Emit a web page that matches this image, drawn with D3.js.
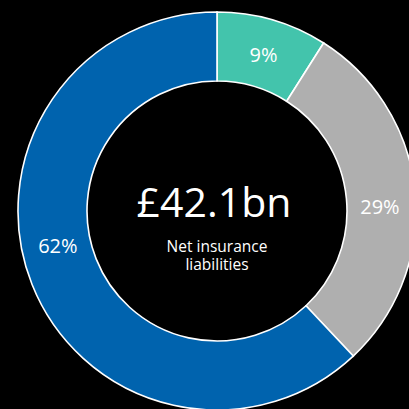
<!DOCTYPE html>
<html><head><meta charset="utf-8">
<script src="https://cdn.jsdelivr.net/npm/d3@7"></script>
<style>html,body{margin:0;padding:0;background:#000;overflow:hidden}</style>
</head><body>
<svg id="c" width="409" height="409"></svg>
<script>
const categories = ["Segment A", "Segment B", "Segment C"];
const values = [9, 29, 62];
const labels = ["9%", "29%", "62%"];
const colors = ["#43C4AC", "#AFAFAF", "#0063AE"];
const centerValue = "£42.1bn";
const centerCaption = ["Net insurance", "liabilities"];

const svg = d3.select("#c");
svg.append("rect").attr("width", 409).attr("height", 409).attr("fill", "#000");
const cx = 217, cy = 211, rOut = 199, rIn = 130;
const g = svg.append("g").attr("transform", `translate(${cx},${cy})`);
const pie = d3.pie().sort(null).value(d => d)(values);
const arc = d3.arc().innerRadius(rIn).outerRadius(rOut);
g.selectAll("path").data(pie).join("path")
  .attr("d", arc).attr("fill", (d, i) => colors[i])
  .attr("stroke", "#fff").attr("stroke-width", 1.6);

// label placement: angular nudge inside each segment
const labelNudge = [0.007, 0.07, 0.16];
const labelR = 163;
g.selectAll("text.lbl").data(pie).join("text").attr("class", "lbl")
  .attr("x", (d, i) => labelR * Math.sin((d.startAngle + d.endAngle) / 2 + labelNudge[i]))
  .attr("y", (d, i) => -labelR * Math.cos((d.startAngle + d.endAngle) / 2 + labelNudge[i]) + 7)
  .attr("text-anchor", "middle")
  .attr("font-family", "'Open Sans', sans-serif").attr("font-size", 20)
  .attr("fill", "#fff").text((d, i) => labels[i]);

g.append("text").attr("x", -3).attr("y", 6).attr("text-anchor", "middle")
  .attr("font-family", "'Open Sans', sans-serif").attr("font-size", 41)
  .attr("fill", "#fff").text(centerValue);
const cap = g.append("text").attr("text-anchor", "middle")
  .attr("font-family", "'Open Sans', sans-serif").attr("font-size", 15.5)
  .attr("fill", "#fff");
centerCaption.forEach((t, i) => {
  cap.append("tspan").attr("x", 0).attr("y", 41 + i * 17.6).text(t);
});
</script>
</body></html>
